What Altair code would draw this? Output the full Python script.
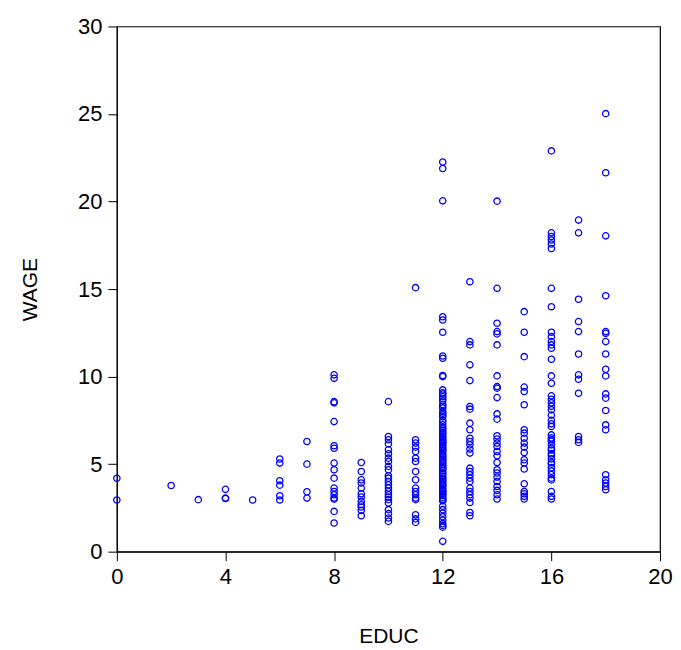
import altair as alt
import pandas as pd

# wage values, grouped by years of education
w0 = [4.19, 2.95]
w2 = [3.78]
w3 = [2.97]
w4 = [3.56, 3.06, 3.04]
w5 = [2.95]
w6 = [5.29, 5.06, 4.05, 3.80, 3.19, 2.95]
w7 = [6.29, 5.0, 3.42, 3.06]
w8 = [10.1, 9.9, 8.57, 8.5, 7.43, 6.05, 5.91, 5.06, 4.68, 4.2, 3.63, 3.44,
      3.25, 3.06, 3.0, 2.3, 1.64]
w9 = [5.09, 4.58, 4.11, 3.92, 3.63, 3.31, 3.12, 2.87, 2.68, 2.55, 2.36, 2.05]
w10 = [8.57, 6.58, 6.39, 6.16, 5.82, 5.59, 5.34, 5.15, 4.87, 4.68, 4.34, 4.2,
       4.01, 3.82, 3.63, 3.44, 3.25, 3.12, 2.97, 2.78, 2.4, 2.17, 1.92, 1.73]
w11 = [15.08, 6.39, 6.2, 5.97, 5.72, 5.34, 5.15, 4.58, 4.11, 3.63, 3.44, 3.25,
       3.06, 2.97, 2.11, 1.87, 1.67]
w12 = [22.26, 21.89, 20.04, 13.42, 13.23, 12.53, 11.18, 11.05, 10.06, 10.0,
       9.24, 9.07, 9.0, 8.86, 8.75, 8.6, 8.4, 8.3, 8.2, 8.0, 7.9, 7.8, 7.7,
       7.5, 7.4, 7.25, 7.1, 7.0, 6.9, 6.8, 6.7, 6.6, 6.5, 6.4, 6.3, 6.25, 6.2,
       6.1, 6.0, 5.9, 5.8, 5.75, 5.6, 5.5, 5.4, 5.3, 5.2, 5.1, 5.0, 4.9, 4.8,
       4.75, 4.65, 4.5, 4.45, 4.3, 4.2, 4.1, 4.0, 3.9, 3.8, 3.75, 3.6, 3.5,
       3.45, 3.35, 3.3, 3.2, 3.1, 3.0, 2.95, 2.9, 2.6, 2.4, 2.2, 2.0, 1.8,
       1.6, 1.5, 1.4, 0.59]
w13 = [15.42, 12.0, 11.81, 10.67, 9.77, 8.29, 8.14, 7.34, 6.96, 6.48, 6.29,
       6.1, 5.86, 5.63, 4.77, 4.58, 4.39, 4.2, 4.01, 3.63, 3.44, 3.25, 3.06,
       2.81, 2.24, 2.05]
w14 = [20.02, 15.04, 13.05, 12.57, 12.44, 11.81, 10.04, 9.43, 9.34, 8.8,
       7.87, 7.57, 6.62, 6.43, 6.2, 6.01, 5.72, 5.48, 5.09, 4.68, 4.49, 4.26,
       4.01, 3.72, 3.5, 3.25, 3.01]
w15 = [13.71, 12.53, 11.14, 9.4, 9.15, 8.39, 6.96, 6.77, 6.48, 6.2, 5.97,
       5.66, 5.25, 5.06, 4.72, 3.88, 3.44, 3.31, 3.16, 3.01]
w16 = [22.89, 18.21, 18.0, 17.8, 17.57, 17.32, 15.04, 13.99, 12.53, 12.28,
       12.0, 11.81, 11.62, 10.99, 10.04, 9.62, 8.9, 8.7, 8.5, 8.3, 8.1, 7.8,
       7.5, 7.3, 7.15, 6.67, 6.5, 6.4, 6.3, 6.1, 5.9, 5.8, 5.6, 5.5, 5.3,
       5.1, 5.0, 4.8, 4.6, 4.4, 4.2, 4.1, 3.44, 3.16, 3.01]
w17 = [18.94, 18.21, 14.42, 13.14, 12.57, 11.29, 10.1, 9.85, 9.05, 6.58,
       6.39, 6.24]
w18 = [25.02, 21.64, 18.04, 14.62, 12.57, 12.47, 12.0, 11.29, 10.42, 10.04,
       9.01, 8.77, 8.06, 7.24, 6.96, 4.39, 4.11, 3.92, 3.72, 3.54]

groups = {0: w0, 2: w2, 3: w3, 4: w4, 5: w5, 6: w6, 7: w7, 8: w8, 9: w9,
          10: w10, 11: w11, 12: w12, 13: w13, 14: w14, 15: w15, 16: w16,
          17: w17, 18: w18}

rows = [{"EDUC": e, "WAGE": w} for e, ws in groups.items() for w in ws]
df = pd.DataFrame(rows)

x_ticks = [0, 4, 8, 12, 16, 20]
y_ticks = [0, 5, 10, 15, 20, 25, 30]

chart = alt.Chart(df).mark_point(
    shape="circle", filled=False, color="#0000FF", size=40, strokeWidth=1.3,
    opacity=1
).encode(
    x=alt.X("EDUC:Q", scale=alt.Scale(domain=[0, 20], nice=False, zero=False),
            axis=alt.Axis(values=x_ticks, title="EDUC", grid=False,
                          titlePadding=38)),
    y=alt.Y("WAGE:Q", scale=alt.Scale(domain=[0, 30], nice=False),
            axis=alt.Axis(values=y_ticks, title="WAGE", grid=False,
                          titlePadding=37)),
).properties(
    width=544, height=526,
    autosize=alt.AutoSizeParams(type="none"),
    padding={"left": 109, "top": 18, "right": 13, "bottom": 96},
).configure_view(
    stroke="black", strokeWidth=1.2
).configure_axis(
    domainColor="black", tickColor="black", tickSize=9, labelPadding=6,
    labelFont="Liberation Sans", labelFontSize=22, labelColor="black",
    titleFont="Liberation Sans", titleFontSize=21, titleFontWeight="normal",
    titleColor="black", labelFlush=False, labelOverlap=False
)

chart.save("out.html", embed_options={"renderer": "svg", "actions": False})
